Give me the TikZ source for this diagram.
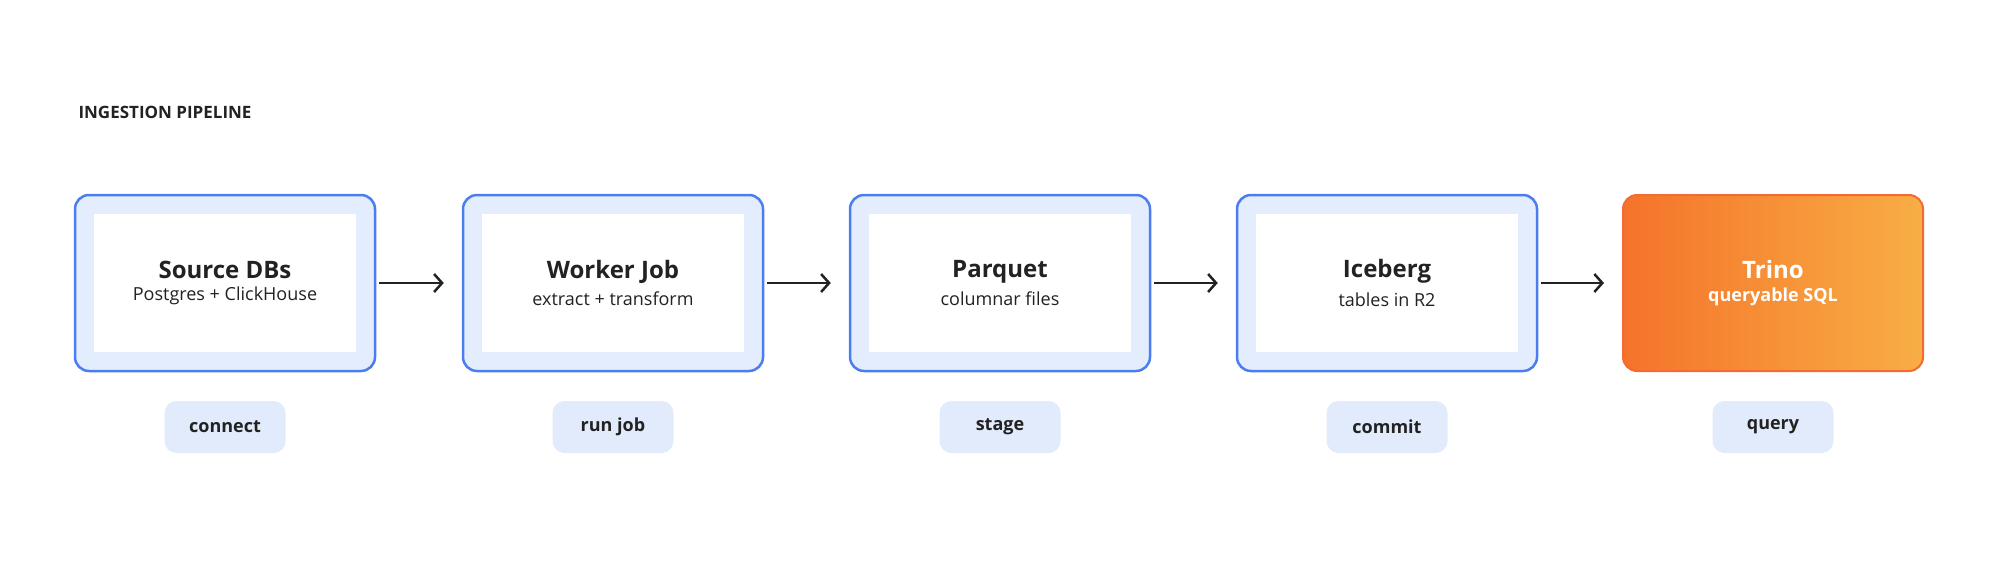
\documentclass[tikz,border=0pt]{standalone}
\usepackage{fontspec}
\setmainfont{Open Sans}
\usetikzlibrary{positioning,arrows.meta}
\definecolor{edgeblue}{HTML}{4A7DF0}
\definecolor{paleblue}{HTML}{E3EDFD}
\definecolor{pillblue}{HTML}{E1EBFB}
\definecolor{inkgray}{HTML}{222222}
\definecolor{orangeA}{HTML}{F5732A}
\definecolor{orangeB}{HTML}{F8AE45}
\definecolor{orangeedge}{HTML}{F46A35}
\tikzset{
  stagebox/.style={draw=edgeblue, line width=2.5pt, fill=paleblue, rounded corners=14pt,
    minimum width=300pt, minimum height=176pt, inner sep=0pt},
  stagecore/.style={fill=white, minimum width=262pt, minimum height=138pt, inner sep=0pt,
    align=center, text=inkgray},
  hotbox/.style={draw=orangeedge, line width=2pt, rounded corners=14pt,
    left color=orangeA, right color=orangeB, minimum width=300pt, minimum height=176pt,
    inner sep=0pt, align=center, text=white},
  pill/.style={fill=pillblue, rounded corners=12pt, minimum width=121pt, minimum height=52pt,
    font=\fontsize{18}{20}\selectfont\bfseries, text=inkgray},
  flow/.style={-{Straight Barb[length=8pt,width=18pt,line width=2.5pt]}, line width=2.5pt,
    draw=inkgray, shorten <=3pt, shorten >=18pt},
}
\newcommand{\stagetext}[2]{{\fontsize{24}{30}\selectfont\bfseries #1}\\[8pt]{\fontsize{18}{22}\selectfont #2}}
\begin{document}
\begin{tikzpicture}[x=1pt, y=-1pt]
  \useasboundingbox (0,0) rectangle (1999,573);
  \node (head) [anchor=west, text=inkgray, font=\fontsize{17}{20}\selectfont\bfseries] at (75,112) {INGESTION PIPELINE};

  \node (src) [stagebox] at (225,283) {};
  \node (srcc) [stagecore] at (src) {\stagetext{Source DBs}{Postgres + ClickHouse}};
  \node (wrk) [stagebox] at (613,283) {};
  \node (wrkc) [stagecore] at (wrk) {\stagetext{Worker Job}{extract + transform}};
  \node (prq) [stagebox] at (1000,283) {};
  \node (prqc) [stagecore] at (prq) {\stagetext{Parquet}{columnar files}};
  \node (ice) [stagebox] at (1387,283) {};
  \node (icec) [stagecore] at (ice) {\stagetext{Iceberg}{tables in R2}};
  \node (tri) [hotbox] at (1773,283) {\stagetext{Trino}{\bfseries queryable SQL}};

  \node (pconn) [pill] at (225,427) {connect};
  \node (prun) [pill] at (613,427) {run job};
  \node (pstg) [pill] at (1000,427) {stage};
  \node (pcom) [pill] at (1387,427) {commit};
  \node (pqry) [pill] at (1773,427) {query};

  \draw[flow] (src.east) -- (wrk.west);
  \draw[flow] (wrk.east) -- (prq.west);
  \draw[flow] (prq.east) -- (ice.west);
  \draw[flow] (ice.east) -- (tri.west);
\end{tikzpicture}
\end{document}
